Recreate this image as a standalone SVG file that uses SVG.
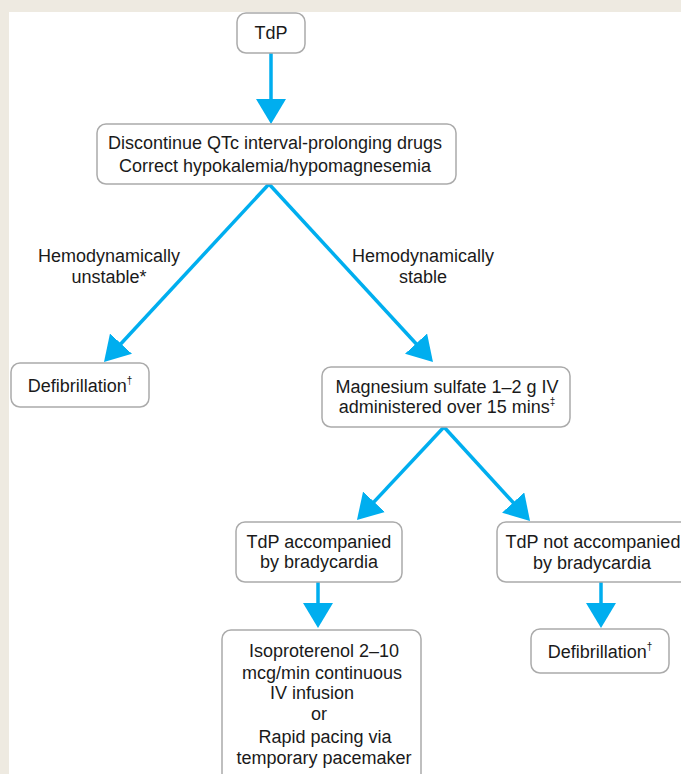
<svg xmlns="http://www.w3.org/2000/svg" width="681" height="774" viewBox="0 0 681 774">
<style>
.box{fill:#fff;stroke:#ababab;stroke-width:1.5}
.t{font-family:"Liberation Sans",Arial,sans-serif;font-size:18px;fill:#1a1a1a;text-anchor:middle}
.c{stroke:#00aeef;stroke-width:3.5;fill:none;marker-end:url(#ah)}
.sup{font-size:10px}
</style>
<defs>
<marker id="ah" viewBox="0 0 25 30" markerWidth="25" markerHeight="30" refX="10" refY="15" orient="auto" markerUnits="userSpaceOnUse">
<path d="M0,0 L25,15 L0,30 z" fill="#00aeef"/>
</marker>
</defs>
<rect x="0" y="0" width="681" height="774" fill="#eeeae1"/>
<rect x="9" y="12" width="700" height="800" fill="#fff"/>
<g id="connectors">
<line class="c" x1="271" y1="53" x2="271" y2="109"/>
<line class="c" x1="269" y1="184" x2="114.2" y2="351"/>
<line class="c" x1="269" y1="184" x2="422.8" y2="351"/>
<line class="c" x1="444" y1="427" x2="367.2" y2="509.1"/>
<line class="c" x1="444" y1="427" x2="519.9" y2="509.9"/>
<line class="c" x1="318" y1="582" x2="318" y2="613"/>
<line class="c" x1="601" y1="582" x2="601" y2="613"/>
</g>
<g id="label-unstable">
<text class="t" x="109" y="262">Hemodynamically</text>
<text class="t" x="109" y="283">unstable*</text>
</g>
<g id="label-stable">
<text class="t" x="423" y="262">Hemodynamically</text>
<text class="t" x="423" y="283">stable</text>
</g>
<g id="n-tdp">
<rect class="box" x="237" y="13" width="68" height="40" rx="9"/>
<text class="t" x="271" y="39">TdP</text>
</g>
<g id="n-discontinue">
<rect class="box" x="97" y="124" width="359" height="60" rx="9"/>
<text class="t" x="275" y="149">Discontinue QTc interval-prolonging drugs</text>
<text class="t" x="275" y="172">Correct hypokalemia/hypomagnesemia</text>
</g>
<g id="n-defib1">
<rect class="box" x="11" y="363" width="138" height="44" rx="9"/>
<text class="t" x="80" y="392">Defibrillation<tspan class="sup" dy="-8">†</tspan></text>
</g>
<g id="n-mg">
<rect class="box" x="322" y="367" width="248" height="60" rx="9"/>
<text class="t" x="447" y="393">Magnesium sulfate 1–2 g IV</text>
<text class="t" x="447" y="413">administered over 15 mins<tspan class="sup" dy="-8">‡</tspan></text>
</g>
<g id="n-brady">
<rect class="box" x="236" y="522" width="166" height="60" rx="9"/>
<text class="t" x="319" y="548">TdP accompanied</text>
<text class="t" x="319" y="568">by bradycardia</text>
</g>
<g id="n-nobrady">
<rect class="box" x="497" y="522" width="210" height="60" rx="9"/>
<text class="t" x="593" y="548">TdP not accompanied</text>
<text class="t" x="592" y="569">by bradycardia</text>
</g>
<g id="n-iso">
<rect class="box" x="222" y="630" width="199" height="170" rx="9"/>
<text class="t" x="324" y="657">Isoproterenol 2–10</text>
<text class="t" x="322" y="679">mcg/min continuous</text>
<text class="t" x="312" y="699">IV infusion</text>
<text class="t" x="319" y="720">or</text>
<text class="t" x="325" y="743">Rapid pacing via</text>
<text class="t" x="324" y="764">temporary pacemaker</text>
</g>
<g id="n-defib2">
<rect class="box" x="531" y="629" width="138" height="44" rx="9"/>
<text class="t" x="600" y="658">Defibrillation<tspan class="sup" dy="-8">†</tspan></text>
</g>
</svg>
